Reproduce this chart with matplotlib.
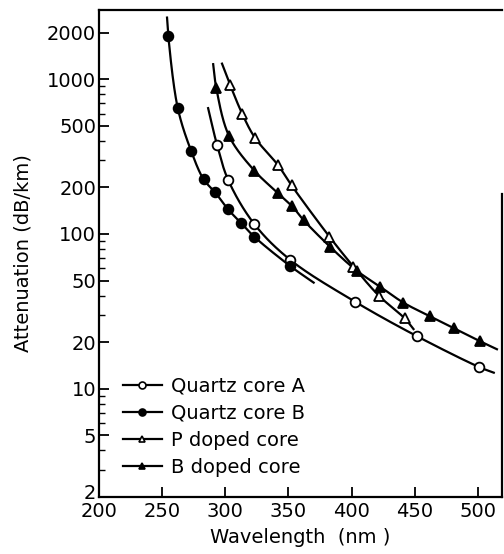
import matplotlib
matplotlib.use("Agg")
import matplotlib.pyplot as plt
from matplotlib.ticker import FixedLocator, NullFormatter
from matplotlib.transforms import ScaledTranslation
import numpy as np

plt.rcParams.update({"font.family": "DejaVu Sans", "font.size": 13})

# values (wavelength nm, attenuation dB/km)
qa_x = [293.5, 302.5, 323, 351.5, 402.5, 451.5, 501]
qa_y = [378, 222, 116, 68, 36.6, 21.9, 13.8]
qa_curve = [(286.5, 650), (512.5, 12.7)]   # where the drawn curve starts / ends

qb_x = [255, 262.5, 273, 283, 292, 302, 312.5, 323, 351.5]
qb_y = [1900, 650, 345, 225, 186, 145, 118, 96, 62]
qb_curve = [(254, 2500), (370, 48.5)]

p_x = [304, 313.5, 323.5, 342, 352.5, 382.5, 401.5, 421.5, 442]
p_y = [915, 597, 419, 277, 206, 96, 61.5, 40, 28.5]
p_curve = [(297.5, 1260), (449, 24.3)]

b_x = [293, 303, 323, 342, 353, 362, 383, 404, 422.5, 441, 462, 481, 501.5]
b_y = [875, 431, 257, 183, 151, 123, 82.6, 58, 45.7, 36, 29.4, 24.6, 20.3]
b_curve = [(290.5, 1250), (515, 18)]

labels = ["Quartz core A", "Quartz core B", "P doped core", "B doped core"]
y_major = [2, 5, 10, 20, 50, 100, 200, 500, 1000, 2000]
x_major = [200, 250, 300, 350, 400, 450, 500]


def smooth(xs, ys, n=40):
    # centripetal Catmull-Rom through the points, in roughly screen-proportional space
    P = np.column_stack([np.asarray(xs, float) * 63 / 50, np.log10(ys) * 156])
    P = np.vstack([2 * P[0] - P[1], P, 2 * P[-1] - P[-2]])
    out = []
    for k in range(len(P) - 3):
        p0, p1, p2, p3 = P[k:k + 4]
        t0 = 0.0
        t1 = t0 + np.linalg.norm(p1 - p0) ** 0.5
        t2 = t1 + np.linalg.norm(p2 - p1) ** 0.5
        t3 = t2 + np.linalg.norm(p3 - p2) ** 0.5
        t = np.linspace(t1, t2, n)[:, None]
        a1 = (t1 - t) / (t1 - t0) * p0 + (t - t0) / (t1 - t0) * p1
        a2 = (t2 - t) / (t2 - t1) * p1 + (t - t1) / (t2 - t1) * p2
        a3 = (t3 - t) / (t3 - t2) * p2 + (t - t2) / (t3 - t2) * p3
        b1 = (t2 - t) / (t2 - t0) * a1 + (t - t0) / (t2 - t0) * a2
        b2 = (t3 - t) / (t3 - t1) * a2 + (t - t1) / (t3 - t1) * a3
        out.append((t2 - t) / (t2 - t1) * b1 + (t - t1) / (t2 - t1) * b2)
    C = np.vstack(out)
    return C[:, 0] * 50 / 63, 10 ** (C[:, 1] / 156)


fig = plt.figure(figsize=(5.04, 5.54), dpi=100)
ax = fig.add_axes([0.196, 0.103, 0.80, 0.879])

series = [
    (qa_x, qa_y, qa_curve, "o", "white"),
    (qb_x, qb_y, qb_curve, "o", "black"),
    (p_x, p_y, p_curve, "^", "white"),
    (b_x, b_y, b_curve, "^", "black"),
]
for (xs, ys, cv, mk, fc), lab in zip(series, labels):
    cx = [cv[0][0]] + list(xs) + [cv[1][0]]
    cy = [cv[0][1]] + list(ys) + [cv[1][1]]
    sx, sy = smooth(cx, cy)
    ax.plot(sx, sy, color="black", lw=1.6, zorder=2)
    ax.plot(xs, ys, ls="none", marker=mk, ms=7, mfc=fc, mec="black", mew=1.3, zorder=3)
    # legend proxy
    ax.plot([], [], color="black", lw=1.6, marker=mk, ms=5, mfc=fc, mec="black",
            mew=1.2, label=lab)

ax.set_yscale("log")
ax.set_xlim(200, 519)
ax.set_ylim(2, 2800)
ax.yaxis.set_major_locator(FixedLocator(y_major))
ax.set_yticklabels([str(v) for v in y_major])
minor = [v * k for v in (1, 10, 100, 1000) for k in (3, 4, 6, 7, 8, 9) if v * k < 2800]
ax.yaxis.set_minor_locator(FixedLocator(minor))
ax.yaxis.set_minor_formatter(NullFormatter())
ax.set_xticks(x_major)
ax.tick_params(axis="both", which="major", direction="in", length=7, width=1.3,
               labelsize=14, pad=2)
ax.tick_params(axis="x", which="major", pad=4)
ax.tick_params(axis="y", which="minor", direction="in", length=4, width=1.0)
for s in ax.spines.values():
    s.set_linewidth(1.6)
ax.spines["right"].set_bounds(2, 180)

# lift the "2" label a little so it clears the "200" below it
lab2 = ax.get_yticklabels()[0]
lab2.set_transform(lab2.get_transform() + ScaledTranslation(0, 4 / 72, fig.dpi_scale_trans))

ax.set_xlabel("Wavelength  (nm )", fontsize=14, labelpad=5)
ax.set_ylabel("Attenuation (dB/km)", fontsize=14, labelpad=10)

ax.legend(loc="lower left", bbox_to_anchor=(0.04, 0.025), frameon=False,
          handlelength=2.0, handletextpad=0.5, labelspacing=0.42, fontsize=14,
          borderaxespad=0)

fig.savefig("out.png", dpi=100)
